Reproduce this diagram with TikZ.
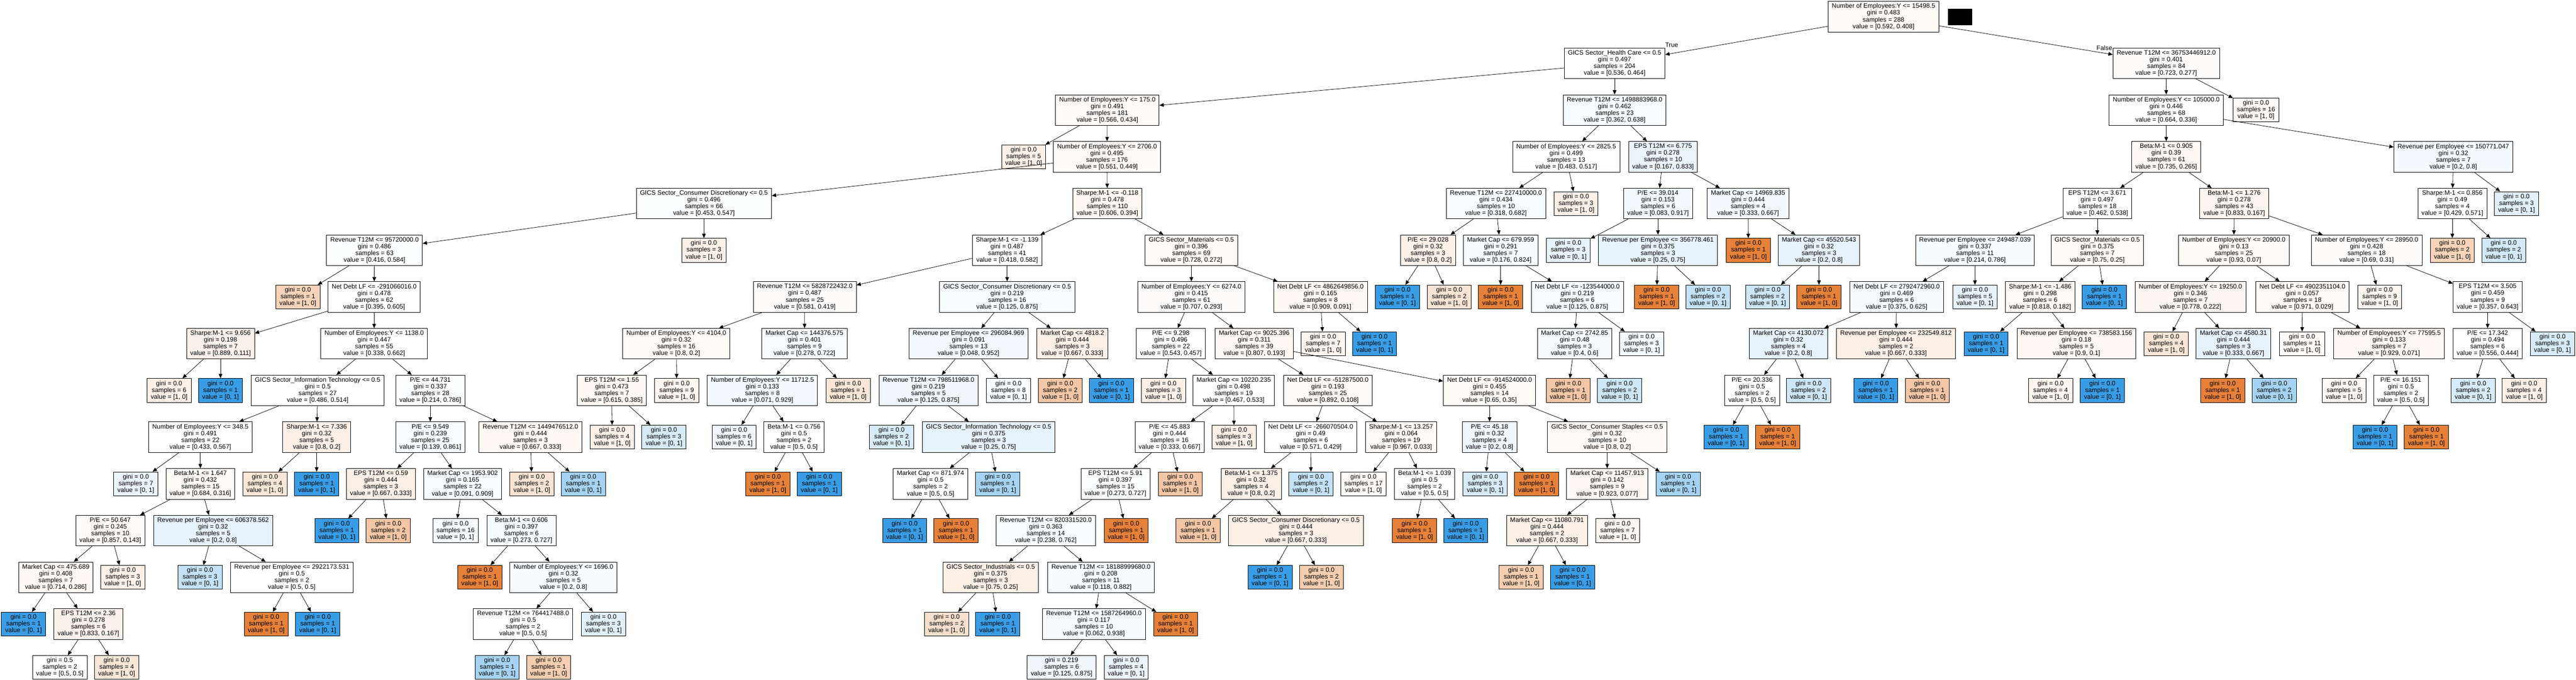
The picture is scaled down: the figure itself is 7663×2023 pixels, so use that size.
\documentclass[tikz,border=0pt]{standalone}
\usepackage{fontspec}
\setmainfont{Liberation Sans}
\usetikzlibrary{arrows.meta}
\definecolor{co}{RGB}{229,129,57}
\definecolor{cb}{RGB}{57,157,229}
\tikzset{
  tbox/.style={draw=black, line width=0.6pt, rectangle, align=center, inner xsep=5.5pt, inner ysep=0pt, font=\fontsize{9.5pt}{10pt}\selectfont},
  inode/.style={tbox, minimum height=45.5pt},
  lnode/.style={tbox, minimum height=35.5pt},
  conn/.style={line width=0.6pt, -{Triangle[length=6.5pt,width=5.5pt]}},
  branchlabel/.style={font=\fontsize{9.5pt}{10pt}\selectfont, inner sep=0pt}
}
\newcommand\IN[8]{\node[inode,fill=#4] (#1) at ({#2},{49.5+139*#3}) {#5\\gini = #6\\samples = #7\\value = [#8]};}
\newcommand\LN[7]{\node[lnode,fill=#4] (#1) at ({#2},{49.5+139*#3-10*(#3>13)}) {gini = #5\\samples = #6\\value = [#7]};}
\newcommand\edg[2]{\draw[conn] (#1) -- (#2);}
\begin{document}
\begin{tikzpicture}[x=0.5pt,y=-0.5pt]
\fill[white] (0,0) rectangle (7663,2023);
\useasboundingbox (0,0) rectangle (7663,2023);
% level 0
\IN{n0}{5603}{0}{co!3}{Number of Employees:Y <= 15498.5}{0.483}{288}{0.592, 0.408}
\fill[black] (5795,26) rectangle (5867,75);
% level 1
\IN{n1}{4803}{1}{white}{GICS Sector\_Health Care <= 0.5}{0.497}{204}{0.536, 0.464}
\IN{n2}{6444}{1}{co!2}{Revenue T12M <= 36753446912.0}{0.401}{84}{0.723, 0.277}
% level 2
\IN{n3}{3294}{2}{co!3}{Number of Employees:Y <= 175.0}{0.491}{181}{0.566, 0.434}
\IN{n4}{4803}{2}{cb!3}{Revenue T12M <= 1498883968.0}{0.462}{23}{0.362, 0.638}
\IN{n5}{6444}{2}{white}{Number of Employees:Y <= 105000.0}{0.446}{68}{0.664, 0.336}
\LN{n6}{6711}{2}{co!4}{0.0}{16}{1, 0}
% level 3
\LN{n7}{3045}{3}{co!12}{0.0}{5}{1, 0}
\IN{n8}{3293}{3}{co!3}{Number of Employees:Y <= 2706.0}{0.495}{176}{0.551, 0.449}
\IN{n9}{4659}{3}{white}{Number of Employees:Y <= 2825.5}{0.499}{13}{0.483, 0.517}
\IN{n10}{4947}{3}{cb!10}{EPS T12M <= 6.775}{0.278}{10}{0.167, 0.833}
\IN{n11}{6444}{3}{co!5}{Beta:M-1 <= 0.905}{0.39}{61}{0.735, 0.265}
\IN{n12}{7298}{3}{cb!5}{Revenue per Employee <= 150771.047}{0.32}{7}{0.2, 0.8}
% level 4
\IN{n13}{2094}{4}{cb!2}{GICS Sector\_Consumer Discretionary <= 0.5}{0.496}{66}{0.453, 0.547}
\IN{n14}{3294}{4}{co!5}{Sharpe:M-1 <= -0.118}{0.478}{110}{0.606, 0.394}
\IN{n15}{4450}{4}{cb!3}{Revenue T12M <= 227410000.0}{0.434}{10}{0.318, 0.682}
\LN{n16}{4688}{4}{co!12}{0.0}{3}{1, 0}
\IN{n17}{4932}{4}{cb!5}{P/E <= 39.014}{0.153}{6}{0.083, 0.917}
\IN{n18}{5200}{4}{cb!5}{Market Cap <= 14969.835}{0.444}{4}{0.333, 0.667}
\IN{n19}{6239}{4}{white}{EPS T12M <= 3.671}{0.497}{18}{0.462, 0.538}
\IN{n20}{6646}{4}{co!8}{Beta:M-1 <= 1.276}{0.278}{43}{0.833, 0.167}
\IN{n21}{7295}{4}{white}{Sharpe:M-1 <= 0.856}{0.49}{4}{0.429, 0.571}
\LN{n22}{7486}{4}{cb!15}{0.0}{3}{0, 1}
% level 5
\IN{n23}{1114}{5}{cb!2}{Revenue T12M <= 95720000.0}{0.486}{63}{0.416, 0.584}
\LN{n24}{2094}{5}{co!12}{0.0}{3}{1, 0}
\IN{n25}{2996}{5}{white}{Sharpe:M-1 <= -1.139}{0.487}{41}{0.418, 0.582}
\IN{n26}{3544}{5}{co!4}{GICS Sector\_Materials <= 0.5}{0.396}{69}{0.728, 0.272}
\IN{n27}{4248}{5}{co!12}{P/E <= 29.028}{0.32}{3}{0.8, 0.2}
\IN{n28}{4464}{5}{cb!4}{Market Cap <= 679.959}{0.291}{7}{0.176, 0.824}
\LN{n29}{4665}{5}{cb!12}{0.0}{3}{0, 1}
\IN{n30}{4932}{5}{cb!12}{Revenue per Employee <= 356778.461}{0.375}{3}{0.25, 0.75}
\LN{n31}{5201}{5}{co}{0.0}{1}{1, 0}
\IN{n32}{5411}{5}{cb!12}{Market Cap <= 45520.543}{0.32}{3}{0.2, 0.8}
\IN{n33}{5875}{5}{cb!4}{Revenue per Employee <= 249487.039}{0.337}{11}{0.214, 0.786}
\IN{n34}{6239}{5}{co!4}{GICS Sector\_Materials <= 0.5}{0.375}{7}{0.75, 0.25}
\IN{n35}{6645}{5}{co!3}{Number of Employees:Y <= 20900.0}{0.13}{25}{0.93, 0.07}
\IN{n36}{7040}{5}{co!2}{Number of Employees:Y <= 28950.0}{0.428}{18}{0.69, 0.31}
\LN{n37}{7295}{5}{co!35}{0.0}{2}{1, 0}
\LN{n38}{7448}{5}{cb!22}{0.0}{2}{0, 1}
% level 6
\LN{n39}{886}{6}{co!35}{0.0}{1}{1, 0}
\IN{n40}{1113}{6}{white}{Net Debt LF <= -291066016.0}{0.478}{62}{0.395, 0.605}
\IN{n41}{2394}{6}{co!2}{Revenue T12M <= 5828722432.0}{0.487}{25}{0.581, 0.419}
\IN{n42}{2996}{6}{cb!3}{GICS Sector\_Consumer Discretionary <= 0.5}{0.219}{16}{0.125, 0.875}
\IN{n43}{3544}{6}{co!2}{Number of Employees:Y <= 6274.0}{0.415}{61}{0.707, 0.293}
\IN{n44}{3928}{6}{co!5}{Net Debt LF <= 4862649856.0}{0.165}{8}{0.909, 0.091}
\LN{n45}{4157}{6}{cb}{0.0}{1}{0, 1}
\LN{n46}{4311}{6}{co!22}{0.0}{2}{1, 0}
\LN{n47}{4464}{6}{co}{0.0}{1}{1, 0}
\IN{n48}{4692}{6}{cb!3}{Net Debt LF <= -123544000.0}{0.219}{6}{0.125, 0.875}
\LN{n49}{4928}{6}{co}{0.0}{1}{1, 0}
\LN{n50}{5081}{6}{cb!30}{0.0}{2}{0, 1}
\LN{n51}{5258}{6}{cb!25}{0.0}{2}{0, 1}
\LN{n52}{5411}{6}{co}{0.0}{1}{1, 0}
\IN{n53}{5642}{6}{cb!4}{Net Debt LF <= 2792472960.0}{0.469}{6}{0.375, 0.625}
\LN{n54}{5875}{6}{cb!12}{0.0}{5}{0, 1}
\IN{n55}{6069}{6}{co!4}{Sharpe:M-1 <= -1.486}{0.298}{6}{0.818, 0.182}
\LN{n56}{6260}{6}{cb}{0.0}{1}{0, 1}
\IN{n57}{6516}{6}{co!6}{Number of Employees:Y <= 19250.0}{0.346}{7}{0.778, 0.222}
\IN{n58}{6849}{6}{co!3}{Net Debt LF <= 4902351104.0}{0.057}{18}{0.971, 0.029}
\LN{n59}{7079}{6}{co!6}{0.0}{9}{1, 0}
\IN{n60}{7400}{6}{white}{EPS T12M <= 3.505}{0.459}{9}{0.357, 0.643}
% level 7
\IN{n61}{656}{7}{co!10}{Sharpe:M-1 <= 9.656}{0.198}{7}{0.889, 0.111}
\IN{n62}{1113}{7}{white}{Number of Employees:Y <= 1138.0}{0.447}{55}{0.338, 0.662}
\IN{n63}{2012}{7}{co!3}{Number of Employees:Y <= 4104.0}{0.32}{16}{0.8, 0.2}
\IN{n64}{2393}{7}{cb!3}{Market Cap <= 144376.575}{0.401}{9}{0.278, 0.722}
\IN{n65}{2881}{7}{cb!5}{Revenue per Employee <= 296084.969}{0.091}{13}{0.048, 0.952}
\IN{n66}{3190}{7}{co!12}{Market Cap <= 4818.2}{0.444}{3}{0.667, 0.333}
\IN{n67}{3483}{7}{white}{P/E <= 9.298}{0.496}{22}{0.543, 0.457}
\IN{n68}{3731}{7}{co!5}{Market Cap <= 9025.396}{0.311}{39}{0.807, 0.193}
\LN{n69}{3936}{7}{co!8}{0.0}{7}{1, 0}
\LN{n70}{4089}{7}{cb}{0.0}{1}{0, 1}
\IN{n71}{4684}{7}{cb!4}{Market Cap <= 2742.85}{0.48}{3}{0.4, 0.6}
\LN{n72}{4883}{7}{cb!6}{0.0}{3}{0, 1}
\IN{n73}{5320}{7}{cb!12}{Market Cap <= 4130.072}{0.32}{4}{0.2, 0.8}
\IN{n74}{5640}{7}{co!12}{Revenue per Employee <= 232549.812}{0.444}{2}{0.667, 0.333}
\LN{n75}{5908}{7}{cb}{0.0}{1}{0, 1}
\IN{n76}{6177}{7}{co!5}{Revenue per Employee <= 738583.156}{0.18}{5}{0.9, 0.1}
\LN{n77}{6444}{7}{co!20}{0.0}{4}{1, 0}
\IN{n78}{6644}{7}{cb!12}{Market Cap <= 4580.31}{0.444}{3}{0.333, 0.667}
\LN{n79}{6848}{7}{co!3}{0.0}{11}{1, 0}
\IN{n80}{7107}{7}{co!5}{Number of Employees:Y <= 77595.5}{0.133}{7}{0.929, 0.071}
\IN{n81}{7400}{7}{white}{P/E <= 17.342}{0.494}{6}{0.556, 0.444}
\LN{n82}{7593}{7}{cb!20}{0.0}{3}{0, 1}
% level 8
\LN{n83}{503}{8}{co!12}{0.0}{6}{1, 0}
\LN{n84}{656}{8}{cb}{0.0}{1}{0, 1}
\IN{n85}{945}{8}{white}{GICS Sector\_Information Technology <= 0.5}{0.5}{27}{0.486, 0.514}
\IN{n86}{1280}{8}{cb!2}{P/E <= 44.731}{0.337}{28}{0.214, 0.786}
\IN{n87}{1820}{8}{co!5}{EPS T12M <= 1.55}{0.473}{7}{0.615, 0.385}
\LN{n88}{2013}{8}{co!8}{0.0}{9}{1, 0}
\IN{n89}{2268}{8}{cb!5}{Number of Employees:Y <= 11712.5}{0.133}{8}{0.071, 0.929}
\LN{n90}{2523}{8}{co!20}{0.0}{1}{1, 0}
\IN{n91}{2762}{8}{cb!8}{Revenue T12M <= 798511968.0}{0.219}{5}{0.125, 0.875}
\LN{n92}{3000}{8}{cb!4}{0.0}{8}{0, 1}
\LN{n93}{3154}{8}{co!45}{0.0}{2}{1, 0}
\LN{n94}{3306}{8}{cb}{0.0}{1}{0, 1}
\LN{n95}{3461}{8}{co!12}{0.0}{3}{1, 0}
\IN{n96}{3670}{8}{white}{Market Cap <= 10220.235}{0.498}{19}{0.467, 0.533}
\IN{n97}{3950}{8}{co!4}{Net Debt LF <= -51287500.0}{0.193}{25}{0.892, 0.108}
\IN{n98}{4431}{8}{co!3}{Net Debt LF <= -914524000.0}{0.455}{14}{0.65, 0.35}
\LN{n99}{4665}{8}{co!45}{0.0}{1}{1, 0}
\LN{n100}{4818}{8}{cb!25}{0.0}{2}{0, 1}
\IN{n101}{5212}{8}{white}{P/E <= 20.336}{0.5}{2}{0.5, 0.5}
\LN{n102}{5380}{8}{cb!25}{0.0}{2}{0, 1}
\LN{n103}{5580}{8}{cb}{0.0}{1}{0, 1}
\LN{n104}{5733}{8}{co!45}{0.0}{1}{1, 0}
\LN{n105}{6100}{8}{co!8}{0.0}{4}{1, 0}
\LN{n106}{6254}{8}{cb}{0.0}{1}{0, 1}
\LN{n107}{6612}{8}{co}{0.0}{1}{1, 0}
\LN{n108}{6765}{8}{cb!45}{0.0}{2}{0, 1}
\LN{n109}{6973}{8}{co!5}{0.0}{5}{1, 0}
\IN{n110}{7142}{8}{white}{P/E <= 16.151}{0.5}{2}{0.5, 0.5}
\LN{n111}{7357}{8}{cb!20}{0.0}{2}{0, 1}
\LN{n112}{7509}{8}{co!12}{0.0}{4}{1, 0}
% level 9
\IN{n113}{596}{9}{white}{Number of Employees:Y <= 348.5}{0.491}{22}{0.433, 0.567}
\IN{n114}{942}{9}{co!12}{Sharpe:M-1 <= 7.336}{0.32}{5}{0.8, 0.2}
\IN{n115}{1280}{9}{cb!3}{P/E <= 9.549}{0.239}{25}{0.139, 0.861}
\IN{n116}{1578}{9}{co!5}{Revenue T12M <= 1449476512.0}{0.444}{3}{0.667, 0.333}
\LN{n117}{1821}{9}{co!12}{0.0}{4}{1, 0}
\LN{n118}{1975}{9}{cb!20}{0.0}{3}{0, 1}
\LN{n119}{2184}{9}{cb!8}{0.0}{6}{0, 1}
\IN{n120}{2362}{9}{white}{Beta:M-1 <= 0.756}{0.5}{2}{0.5, 0.5}
\LN{n121}{2652}{9}{cb!20}{0.0}{2}{0, 1}
\IN{n122}{2941}{9}{cb!12}{GICS Sector\_Information Technology <= 0.5}{0.375}{3}{0.25, 0.75}
\IN{n123}{3479}{9}{white}{P/E <= 45.883}{0.444}{16}{0.333, 0.667}
\LN{n124}{3671}{9}{co!12}{0.0}{3}{1, 0}
\IN{n125}{3899}{9}{white}{Net Debt LF <= -266070504.0}{0.49}{6}{0.571, 0.429}
\IN{n126}{4168}{9}{co!4}{Sharpe:M-1 <= 13.257}{0.064}{19}{0.967, 0.033}
\IN{n127}{4431}{9}{cb!8}{P/E <= 45.18}{0.32}{4}{0.2, 0.8}
\IN{n128}{4781}{9}{co!3}{GICS Sector\_Consumer Staples <= 0.5}{0.32}{10}{0.8, 0.2}
\LN{n129}{5135}{9}{cb}{0.0}{1}{0, 1}
\LN{n130}{5288}{9}{co}{0.0}{1}{1, 0}
\LN{n131}{7065}{9}{cb}{0.0}{1}{0, 1}
\LN{n132}{7218}{9}{co}{0.0}{1}{1, 0}
% level 10
\LN{n133}{404}{10}{cb!10}{0.0}{7}{0, 1}
\IN{n134}{596}{10}{co!3}{Beta:M-1 <= 1.647}{0.432}{15}{0.684, 0.316}
\LN{n135}{788}{10}{co!20}{0.0}{4}{1, 0}
\LN{n136}{942}{10}{cb}{0.0}{1}{0, 1}
\IN{n137}{1133}{10}{co!12}{EPS T12M <= 0.59}{0.444}{3}{0.667, 0.333}
\IN{n138}{1376}{10}{cb!3}{Market Cap <= 1953.902}{0.165}{22}{0.091, 0.909}
\LN{n139}{1582}{10}{co!22}{0.0}{2}{1, 0}
\LN{n140}{1735}{10}{cb!45}{0.0}{1}{0, 1}
\LN{n141}{2284}{10}{co}{0.0}{1}{1, 0}
\LN{n142}{2437}{10}{cb}{0.0}{1}{0, 1}
\IN{n143}{2768}{10}{white}{Market Cap <= 871.974}{0.5}{2}{0.5, 0.5}
\LN{n144}{2968}{10}{cb!45}{0.0}{1}{0, 1}
\IN{n145}{3318}{10}{cb!2}{EPS T12M <= 5.91}{0.397}{15}{0.273, 0.727}
\LN{n146}{3511}{10}{co!45}{0.0}{1}{1, 0}
\IN{n147}{3722}{10}{co!12}{Beta:M-1 <= 1.375}{0.32}{4}{0.8, 0.2}
\LN{n148}{3900}{10}{cb!30}{0.0}{2}{0, 1}
\LN{n149}{4056}{10}{co!3}{0.0}{17}{1, 0}
\IN{n150}{4238}{10}{white}{Beta:M-1 <= 1.039}{0.5}{2}{0.5, 0.5}
\LN{n151}{4418}{10}{cb!20}{0.0}{3}{0, 1}
\LN{n152}{4571}{10}{co}{0.0}{1}{1, 0}
\IN{n153}{4781}{10}{co!5}{Market Cap <= 11457.913}{0.142}{9}{0.923, 0.077}
\LN{n154}{4992}{10}{cb!45}{0.0}{1}{0, 1}
% level 11
\IN{n155}{328}{11}{co!4}{P/E <= 50.647}{0.245}{10}{0.857, 0.143}
\IN{n156}{634}{11}{cb!12}{Revenue per Employee <= 606378.562}{0.32}{5}{0.2, 0.8}
\LN{n157}{1002}{11}{cb}{0.0}{1}{0, 1}
\LN{n158}{1155}{11}{co!45}{0.0}{2}{1, 0}
\LN{n159}{1355}{11}{cb!4}{0.0}{16}{0, 1}
\IN{n160}{1551}{11}{cb!4}{Beta:M-1 <= 0.606}{0.397}{6}{0.273, 0.727}
\LN{n161}{2691}{11}{cb}{0.0}{1}{0, 1}
\LN{n162}{2844}{11}{co}{0.0}{1}{1, 0}
\IN{n163}{3111}{11}{cb!3}{Revenue T12M <= 820331520.0}{0.363}{14}{0.238, 0.762}
\LN{n164}{3350}{11}{co}{0.0}{1}{1, 0}
\LN{n165}{3564}{11}{co!45}{0.0}{1}{1, 0}
\IN{n166}{3855}{11}{co!12}{GICS Sector\_Consumer Discretionary <= 0.5}{0.444}{3}{0.667, 0.333}
\LN{n167}{4208}{11}{co}{0.0}{1}{1, 0}
\LN{n168}{4360}{11}{cb}{0.0}{1}{0, 1}
\IN{n169}{4602}{11}{co!12}{Market Cap <= 11080.791}{0.444}{2}{0.667, 0.333}
\LN{n170}{4812}{11}{co!6}{0.0}{7}{1, 0}
% level 12
\IN{n171}{166}{12}{co!5}{Market Cap <= 475.689}{0.408}{7}{0.714, 0.286}
\LN{n172}{365}{12}{co!12}{0.0}{3}{1, 0}
\LN{n173}{595}{12}{cb!30}{0.0}{3}{0, 1}
\IN{n174}{868}{12}{white}{Revenue per Employee <= 2922173.531}{0.5}{2}{0.5, 0.5}
\LN{n175}{1427}{12}{co}{0.0}{1}{1, 0}
\IN{n176}{1676}{12}{cb!4}{Number of Employees:Y <= 1696.0}{0.32}{5}{0.2, 0.8}
\IN{n177}{2947}{12}{co!12}{GICS Sector\_Industrials <= 0.5}{0.375}{3}{0.75, 0.25}
\IN{n178}{3275}{12}{cb!4}{Revenue T12M <= 18188999680.0}{0.208}{11}{0.118, 0.882}
\LN{n179}{3778}{12}{cb}{0.0}{1}{0, 1}
\LN{n180}{3931}{12}{co!40}{0.0}{2}{1, 0}
\LN{n181}{4525}{12}{co!40}{0.0}{1}{1, 0}
\LN{n182}{4678}{12}{cb}{0.0}{1}{0, 1}
% level 13
\LN{n183}{70}{13}{cb}{0.0}{1}{0, 1}
\IN{n184}{263}{13}{co!10}{EPS T12M <= 2.36}{0.278}{6}{0.833, 0.167}
\LN{n185}{792}{13}{co}{0.0}{1}{1, 0}
\LN{n186}{945}{13}{cb}{0.0}{1}{0, 1}
\IN{n187}{1556}{13}{white}{Revenue T12M <= 764417488.0}{0.5}{2}{0.5, 0.5}
\LN{n188}{1795}{13}{cb!15}{0.0}{3}{0, 1}
\LN{n189}{2816}{13}{co!25}{0.0}{2}{1, 0}
\LN{n190}{2968}{13}{cb}{0.0}{1}{0, 1}
\IN{n191}{3254}{13}{cb!4}{Revenue T12M <= 1587264960.0}{0.117}{10}{0.062, 0.938}
\LN{n192}{3497}{13}{co}{0.0}{1}{1, 0}
% level 14
\LN{n193}{178}{14}{white}{0.5}{2}{0.5, 0.5}
\LN{n194}{347}{14}{co!20}{0.0}{4}{1, 0}
\LN{n195}{1479}{14}{cb!45}{0.0}{1}{0, 1}
\LN{n196}{1632}{14}{co!40}{0.0}{1}{1, 0}
\LN{n197}{3158}{14}{cb!8}{0.219}{6}{0.125, 0.875}
\LN{n198}{3350}{14}{cb!10}{0.0}{4}{0, 1}
% labels
\node[branchlabel] (lt) at (4973,134) {True};
\node[branchlabel] (lf) at (6260,142) {False};
% edges
\edg{n0}{n1}\edg{n0}{n2}
\edg{n1}{n3}\edg{n1}{n4}\edg{n2}{n5}\edg{n2}{n6}
\edg{n3}{n7}\edg{n3}{n8}\edg{n4}{n9}\edg{n4}{n10}\edg{n5}{n11}\edg{n5}{n12}
\edg{n8}{n13}\edg{n8}{n14}\edg{n9}{n15}\edg{n9}{n16}\edg{n10}{n17}\edg{n10}{n18}\edg{n11}{n19}\edg{n11}{n20}\edg{n12}{n21}\edg{n12}{n22}
\edg{n13}{n23}\edg{n13}{n24}\edg{n14}{n25}\edg{n14}{n26}\edg{n15}{n27}\edg{n15}{n28}\edg{n17}{n29}\edg{n17}{n30}\edg{n18}{n31}\edg{n18}{n32}\edg{n19}{n33}\edg{n19}{n34}\edg{n20}{n35}\edg{n20}{n36}\edg{n21}{n37}\edg{n21}{n38}
\edg{n23}{n39}\edg{n23}{n40}\edg{n25}{n41}\edg{n25}{n42}\edg{n26}{n43}\edg{n26}{n44}\edg{n27}{n45}\edg{n27}{n46}\edg{n28}{n47}\edg{n28}{n48}\edg{n30}{n49}\edg{n30}{n50}\edg{n32}{n51}\edg{n32}{n52}\edg{n33}{n53}\edg{n33}{n54}\edg{n34}{n55}\edg{n34}{n56}\edg{n35}{n57}\edg{n35}{n58}\edg{n36}{n59}\edg{n36}{n60}
\edg{n40}{n61}\edg{n40}{n62}\edg{n41}{n63}\edg{n41}{n64}\edg{n42}{n65}\edg{n42}{n66}\edg{n43}{n67}\edg{n43}{n68}\edg{n44}{n69}\edg{n44}{n70}\edg{n48}{n71}\edg{n48}{n72}\edg{n53}{n73}\edg{n53}{n74}\edg{n55}{n75}\edg{n55}{n76}\edg{n57}{n77}\edg{n57}{n78}\edg{n58}{n79}\edg{n58}{n80}\edg{n60}{n81}\edg{n60}{n82}
\edg{n61}{n83}\edg{n61}{n84}\edg{n62}{n85}\edg{n62}{n86}\edg{n63}{n87}\edg{n63}{n88}\edg{n64}{n89}\edg{n64}{n90}\edg{n65}{n91}\edg{n65}{n92}\edg{n66}{n93}\edg{n66}{n94}\edg{n67}{n95}\edg{n67}{n96}\edg{n68}{n97}\edg{n68}{n98}\edg{n71}{n99}\edg{n71}{n100}\edg{n73}{n101}\edg{n73}{n102}\edg{n74}{n103}\edg{n74}{n104}\edg{n76}{n105}\edg{n76}{n106}\edg{n78}{n107}\edg{n78}{n108}\edg{n80}{n109}\edg{n80}{n110}\edg{n81}{n111}\edg{n81}{n112}
\edg{n85}{n113}\edg{n85}{n114}\edg{n86}{n115}\edg{n86}{n116}\edg{n87}{n117}\edg{n87}{n118}\edg{n89}{n119}\edg{n89}{n120}\edg{n91}{n121}\edg{n91}{n122}\edg{n96}{n123}\edg{n96}{n124}\edg{n97}{n125}\edg{n97}{n126}\edg{n98}{n127}\edg{n98}{n128}\edg{n101}{n129}\edg{n101}{n130}\edg{n110}{n131}\edg{n110}{n132}
\edg{n113}{n133}\edg{n113}{n134}\edg{n114}{n135}\edg{n114}{n136}\edg{n115}{n137}\edg{n115}{n138}\edg{n116}{n139}\edg{n116}{n140}\edg{n120}{n141}\edg{n120}{n142}\edg{n122}{n143}\edg{n122}{n144}\edg{n123}{n145}\edg{n123}{n146}\edg{n125}{n147}\edg{n125}{n148}\edg{n126}{n149}\edg{n126}{n150}\edg{n127}{n151}\edg{n127}{n152}\edg{n128}{n153}\edg{n128}{n154}
\edg{n134}{n155}\edg{n134}{n156}\edg{n137}{n157}\edg{n137}{n158}\edg{n138}{n159}\edg{n138}{n160}\edg{n143}{n161}\edg{n143}{n162}\edg{n145}{n163}\edg{n145}{n164}\edg{n147}{n165}\edg{n147}{n166}\edg{n150}{n167}\edg{n150}{n168}\edg{n153}{n169}\edg{n153}{n170}
\edg{n155}{n171}\edg{n155}{n172}\edg{n156}{n173}\edg{n156}{n174}\edg{n160}{n175}\edg{n160}{n176}\edg{n163}{n177}\edg{n163}{n178}\edg{n166}{n179}\edg{n166}{n180}\edg{n169}{n181}\edg{n169}{n182}
\edg{n171}{n183}\edg{n171}{n184}\edg{n174}{n185}\edg{n174}{n186}\edg{n176}{n187}\edg{n176}{n188}\edg{n177}{n189}\edg{n177}{n190}\edg{n178}{n191}\edg{n178}{n192}
\edg{n184}{n193}\edg{n184}{n194}\edg{n187}{n195}\edg{n187}{n196}\edg{n191}{n197}\edg{n191}{n198}
\end{tikzpicture}
\end{document}
